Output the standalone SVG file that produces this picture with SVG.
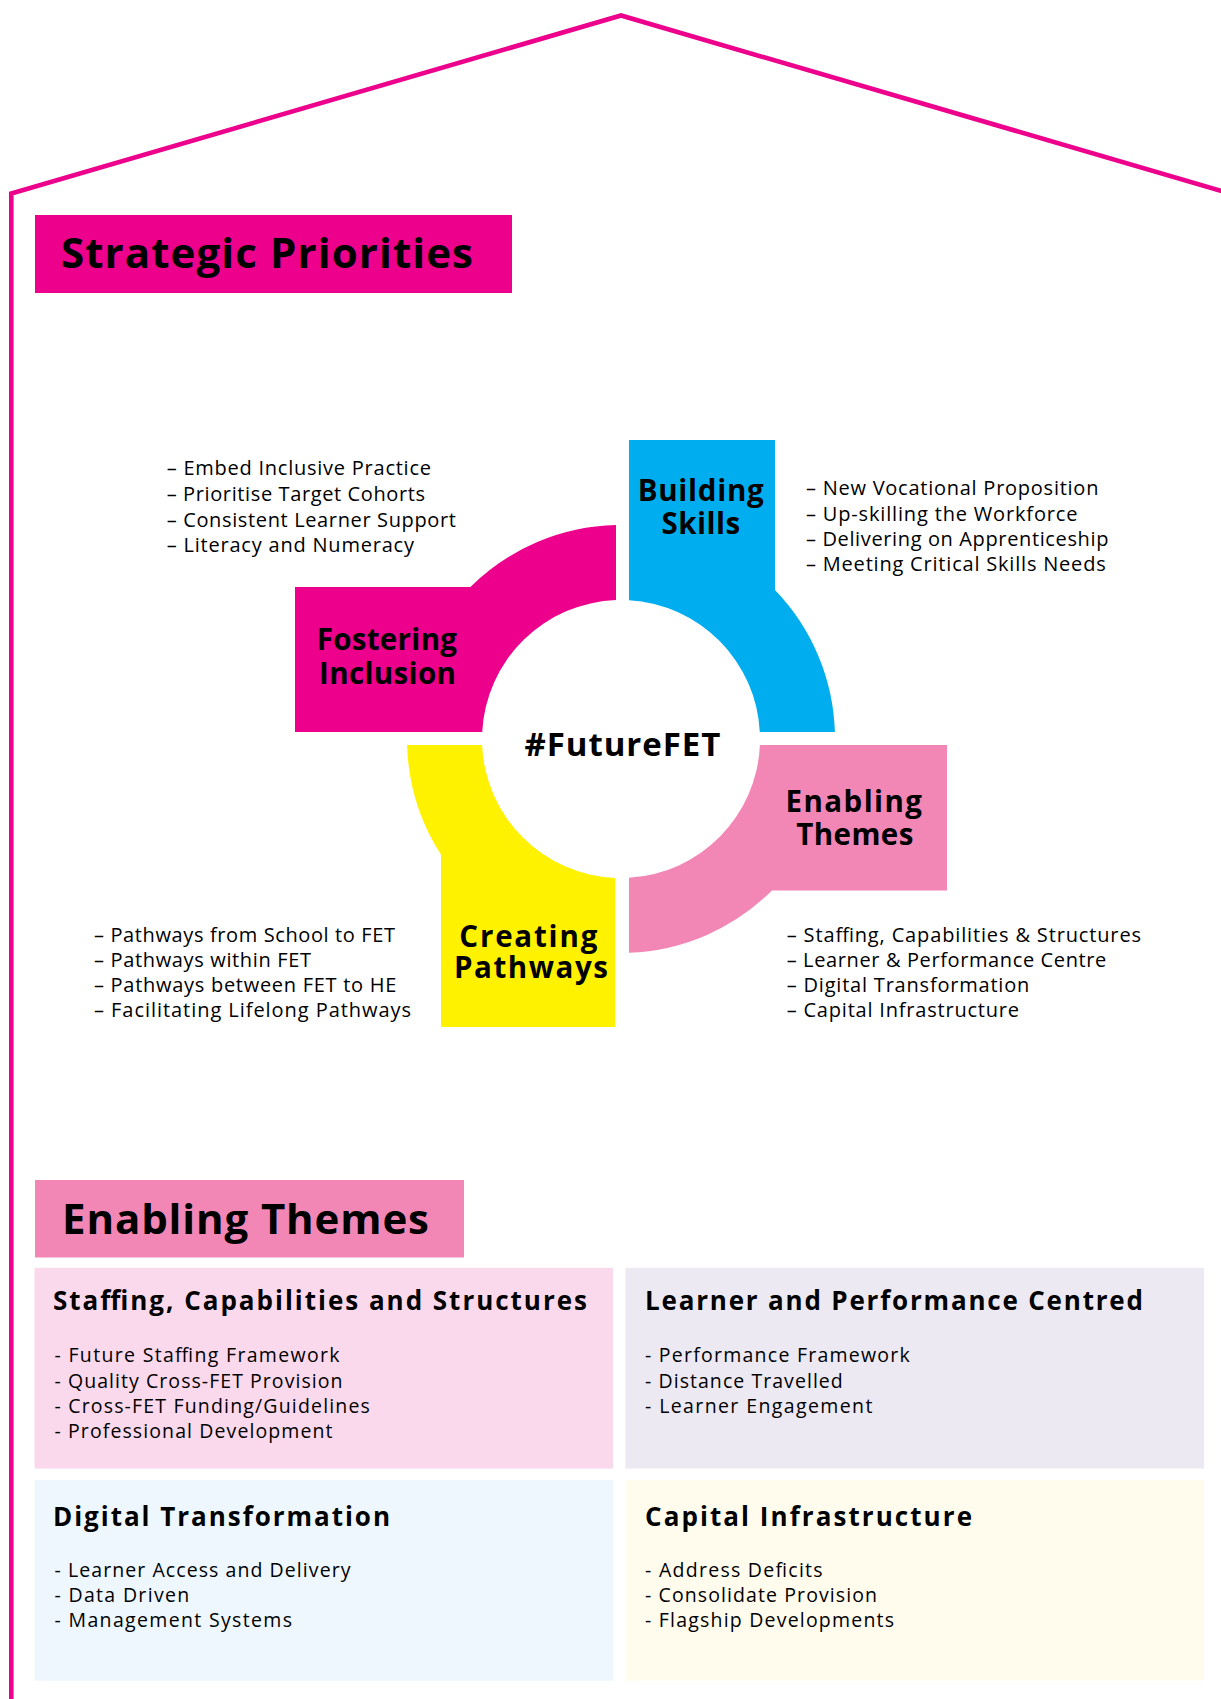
<svg xmlns="http://www.w3.org/2000/svg" width="1221" height="1699" viewBox="0 0 1221 1699">
<style>
  text { font-family: "Open Sans", "Lato", "Liberation Sans", sans-serif; fill: #000; }
  .h1 { font-size: 42px; font-weight: 700; }
  .lbl { font-size: 29.5px; font-weight: 700; }
  .hub { font-size: 33px; font-weight: 700; }
  .item { font-size: 20px; font-weight: 400; }
  .ct { font-size: 26px; font-weight: 700; }
  .ci { font-size: 19.5px; font-weight: 400; }
  .frame { fill: none; stroke: #EC008C; stroke-width: 4.6; stroke-linejoin: miter; }
</style>
<rect width="1221" height="1699" fill="#FFFFFF"/>

<g id="frame">
  <polyline class="frame" points="11.3,1705 11.3,193.5 621,15.5 1232,194"/>
</g>

<g id="title-strategic">
  <rect x="35" y="215" width="477" height="78" fill="#EC008C"/>
  <text class="h1" x="61" y="268" textLength="412">Strategic Priorities</text>
</g>

<g id="node-building-skills">
  <path d="M629,440 H775 V590 A214,214 0 0 1 834.9,732 H759.8 A139,139 0 0 0 629,600.2 Z" fill="#00AEEF"/>
  <text class="lbl" x="637.7" y="501" textLength="126">Building</text>
  <text class="lbl" x="661.6" y="534" textLength="78.5">Skills</text>
</g>

<g id="node-fostering-inclusion">
  <path d="M295,587 H470.4 A214,214 0 0 1 616,525.1 V600.1 A139,139 0 0 0 482.2,732 H295 Z" fill="#EC008C"/>
  <text class="lbl" x="316.7" y="649.5" textLength="140.3">Fostering</text>
  <text class="lbl" x="319" y="684.3" textLength="137">Inclusion</text>
</g>

<g id="node-enabling-themes">
  <path d="M759.9,745 H947 V890.5 H772 A214,214 0 0 1 629,952.8 V877.8 A139,139 0 0 0 759.9,745 Z" fill="#F287B6"/>
  <text class="lbl" x="785.5" y="811.5" textLength="136.5">Enabling</text>
  <text class="lbl" x="796.3" y="844.5" textLength="117">Themes</text>
</g>

<g id="node-creating-pathways">
  <path d="M407.1,745 H482.1 A139,139 0 0 0 615,877.9 V1027 H441 V854.7 A214,214 0 0 1 407.1,745 Z" fill="#FFF200"/>
  <text class="lbl" x="459.3" y="946.5" textLength="138">Creating</text>
  <text class="lbl" x="454" y="978" textLength="154">Pathways</text>
</g>

<g id="node-hub">
  <text class="hub" x="524.4" y="756" textLength="196">#FutureFET</text>
</g>

<g id="list-fostering">
  <text class="item" x="166.7" y="475" textLength="264.3">– Embed Inclusive Practice</text>
  <text class="item" x="166.7" y="501" textLength="258.3">– Prioritise Target Cohorts</text>
  <text class="item" x="166.7" y="527" textLength="289.3">– Consistent Learner Support</text>
  <text class="item" x="166.7" y="552" textLength="247.3">– Literacy and Numeracy</text>
</g>

<g id="list-building">
  <text class="item" x="806" y="495" textLength="292.4">– New Vocational Proposition</text>
  <text class="item" x="806" y="521" textLength="271.4">– Up-skilling the Workforce</text>
  <text class="item" x="806" y="546.3" textLength="302.4">– Delivering on Apprenticeship</text>
  <text class="item" x="806" y="571" textLength="299.7">– Meeting Critical Skills Needs</text>
</g>

<g id="list-creating">
  <text class="item" x="94" y="941.7" textLength="301">– Pathways from School to FET</text>
  <text class="item" x="94" y="966.7" textLength="217">– Pathways within FET</text>
  <text class="item" x="94" y="992" textLength="302.3">– Pathways between FET to HE</text>
  <text class="item" x="94" y="1017" textLength="317">– Facilitating Lifelong Pathways</text>
</g>

<g id="list-enabling">
  <text class="item" x="786.7" y="941.7" textLength="354.3">– Staffing, Capabilities &amp; Structures</text>
  <text class="item" x="786.7" y="966.7" textLength="319.6">– Learner &amp; Performance Centre</text>
  <text class="item" x="786.7" y="992" textLength="242.6">– Digital Transformation</text>
  <text class="item" x="786.7" y="1017" textLength="232.3">– Capital Infrastructure</text>
</g>

<g id="title-enabling">
  <rect x="35" y="1180" width="429" height="77.5" fill="#F287B6"/>
  <text class="h1" x="62" y="1234" textLength="367">Enabling Themes</text>
</g>

<g id="card-staffing">
  <rect x="34.5" y="1267.8" width="578.5" height="200.8" fill="#FBD9EC"/>
  <text class="ct" x="53" y="1310" textLength="534">Staffing, Capabilities and Structures</text>
  <text class="ci" x="54.5" y="1362" textLength="285">- Future Staffing Framework</text>
  <text class="ci" x="54.5" y="1387.5" textLength="288">- Quality Cross-FET Provision</text>
  <text class="ci" x="54.5" y="1413" textLength="315.4">- Cross-FET Funding/Guidelines</text>
  <text class="ci" x="54.5" y="1438" textLength="278">- Professional Development</text>
</g>

<g id="card-learner">
  <rect x="625.4" y="1267.8" width="578.6" height="200.8" fill="#ECE9F3"/>
  <text class="ct" x="645" y="1310" textLength="498">Learner and Performance Centred</text>
  <text class="ci" x="645" y="1362" textLength="264.8">- Performance Framework</text>
  <text class="ci" x="645" y="1387.5" textLength="197.8">- Distance Travelled</text>
  <text class="ci" x="645" y="1413" textLength="227.4">- Learner Engagement</text>
</g>

<g id="card-digital">
  <rect x="34.5" y="1480" width="578.5" height="200.7" fill="#EDF7FD"/>
  <text class="ct" x="53" y="1526" textLength="337">Digital Transformation</text>
  <text class="ci" x="54.5" y="1576.5" textLength="296">- Learner Access and Delivery</text>
  <text class="ci" x="54.5" y="1602" textLength="134.7">- Data Driven</text>
  <text class="ci" x="54.5" y="1627" textLength="237.5">- Management Systems</text>
</g>

<g id="card-capital">
  <rect x="625.4" y="1480" width="578.6" height="200.7" fill="#FFFCEE"/>
  <text class="ct" x="645" y="1526" textLength="327">Capital Infrastructure</text>
  <text class="ci" x="645" y="1576.5" textLength="177.6">- Address Deficits</text>
  <text class="ci" x="645" y="1602" textLength="232">- Consolidate Provision</text>
  <text class="ci" x="645" y="1627" textLength="249">- Flagship Developments</text>
</g>
</svg>
